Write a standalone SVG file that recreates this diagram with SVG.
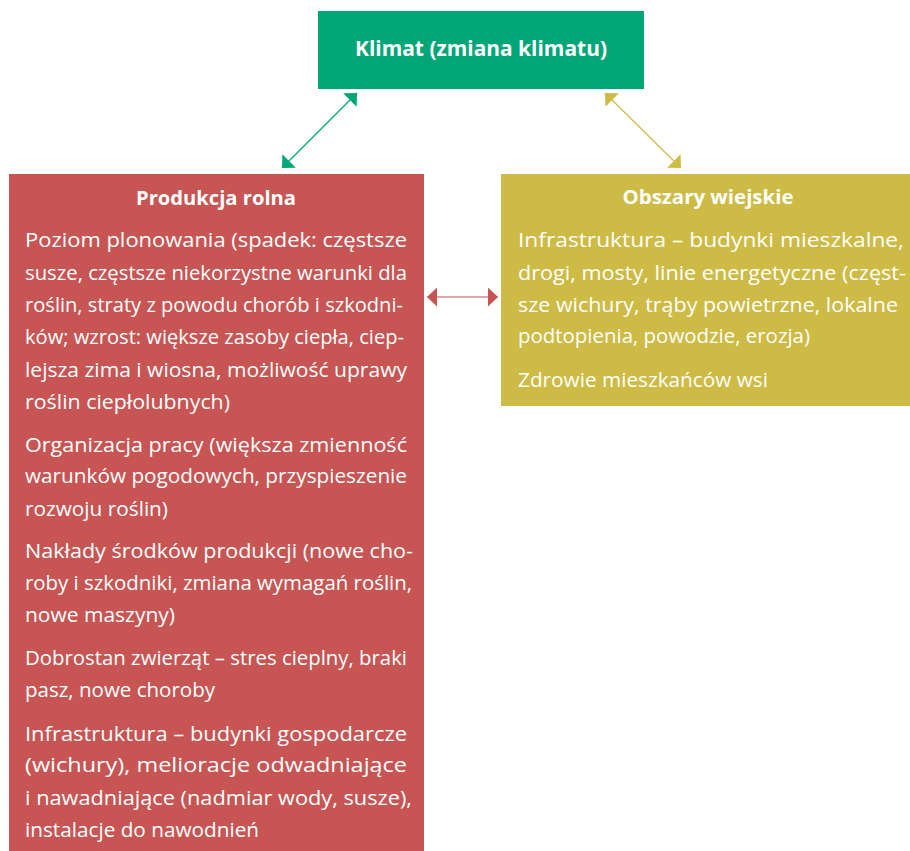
<svg xmlns="http://www.w3.org/2000/svg" width="910" height="851" viewBox="0 0 910 851">
<defs>
<style>
.body{font-family:"Open Sans","Noto Sans",sans-serif;font-size:20.5px;fill:#ffffff;}
.title{font-family:"Open Sans","Noto Sans",sans-serif;font-size:20px;font-weight:bold;fill:#ffffff;text-anchor:middle;}
.conn{fill:none;stroke-width:1.2;}
</style>
<marker id="ah-g" markerUnits="userSpaceOnUse" markerWidth="10" markerHeight="19" refX="10" refY="9.5" orient="auto-start-reverse" viewBox="0 0 10 19"><path d="M0,0 L10,9.5 L0,19 z" fill="#00A676"/></marker>
<marker id="ah-y" markerUnits="userSpaceOnUse" markerWidth="10" markerHeight="19" refX="10" refY="9.5" orient="auto-start-reverse" viewBox="0 0 10 19"><path d="M0,0 L10,9.5 L0,19 z" fill="#CDBB45"/></marker>
<marker id="ah-r" markerUnits="userSpaceOnUse" markerWidth="10" markerHeight="19" refX="10" refY="9.5" orient="auto-start-reverse" viewBox="0 0 10 19"><path d="M0,0 L10,9.5 L0,19 z" fill="#C75554"/></marker>
</defs>
<rect width="910" height="851" fill="#ffffff"/>

<g id="klimat">
<rect x="318" y="11" width="326" height="78" fill="#00A676"/>
<text class="title" x="481" y="56" textLength="252" lengthAdjust="spacingAndGlyphs" style="font-size:21px">Klimat (zmiana klimatu)</text>
</g>

<g id="produkcja-rolna">
<rect x="9" y="174" width="415" height="677" fill="#C75554"/>
<text class="title" x="216" y="205" textLength="160" lengthAdjust="spacingAndGlyphs">Produkcja rolna</text>
<text class="body" x="25" y="247" textLength="382" lengthAdjust="spacingAndGlyphs">Poziom plonowania (spadek: częstsze</text>
<text class="body" x="25" y="280" textLength="382" lengthAdjust="spacingAndGlyphs">susze, częstsze niekorzystne warunki dla</text>
<text class="body" x="25" y="312" textLength="378" lengthAdjust="spacingAndGlyphs">roślin, straty z powodu chorób i szkodni-</text>
<text class="body" x="25" y="344" textLength="379" lengthAdjust="spacingAndGlyphs">ków; wzrost: większe zasoby ciepła, ciep-</text>
<text class="body" x="25" y="377" textLength="382" lengthAdjust="spacingAndGlyphs">lejsza zima i wiosna, możliwość uprawy</text>
<text class="body" x="25" y="409" textLength="205" lengthAdjust="spacingAndGlyphs">roślin ciepłolubnych)</text>
<text class="body" x="25" y="452" textLength="382" lengthAdjust="spacingAndGlyphs">Organizacja pracy (większa zmienność</text>
<text class="body" x="25" y="483" textLength="382" lengthAdjust="spacingAndGlyphs">warunków pogodowych, przyspieszenie</text>
<text class="body" x="25" y="516" textLength="143" lengthAdjust="spacingAndGlyphs">rozwoju roślin)</text>
<text class="body" x="25" y="558" textLength="388" lengthAdjust="spacingAndGlyphs">Nakłady środków produkcji (nowe cho-</text>
<text class="body" x="25" y="590" textLength="387" lengthAdjust="spacingAndGlyphs">roby i szkodniki, zmiana wymagań roślin,</text>
<text class="body" x="25" y="622" textLength="150" lengthAdjust="spacingAndGlyphs">nowe maszyny)</text>
<text class="body" x="25" y="665" textLength="382" lengthAdjust="spacingAndGlyphs">Dobrostan zwierząt – stres cieplny, braki</text>
<text class="body" x="25" y="697" textLength="190" lengthAdjust="spacingAndGlyphs">pasz, nowe choroby</text>
<text class="body" x="25" y="741" textLength="382" lengthAdjust="spacingAndGlyphs">Infrastruktura – budynki gospodarcze</text>
<text class="body" x="25" y="772" textLength="382" lengthAdjust="spacingAndGlyphs">(wichury), melioracje odwadniające</text>
<text class="body" x="25" y="805" textLength="387" lengthAdjust="spacingAndGlyphs">i nawadniające (nadmiar wody, susze),</text>
<text class="body" x="25" y="837" textLength="234" lengthAdjust="spacingAndGlyphs">instalacje do nawodnień</text>
</g>

<g id="obszary-wiejskie">
<rect x="501" y="174" width="409" height="232" fill="#CDBB45"/>
<text class="title" x="708" y="204" textLength="171" lengthAdjust="spacingAndGlyphs">Obszary wiejskie</text>
<text class="body" x="518" y="247" textLength="386" lengthAdjust="spacingAndGlyphs">Infrastruktura – budynki mieszkalne,</text>
<text class="body" x="518" y="280" textLength="388" lengthAdjust="spacingAndGlyphs">drogi, mosty, linie energetyczne (częst-</text>
<text class="body" x="518" y="312" textLength="380" lengthAdjust="spacingAndGlyphs">sze wichury, trąby powietrzne, lokalne</text>
<text class="body" x="518" y="343" textLength="292" lengthAdjust="spacingAndGlyphs">podtopienia, powodzie, erozja)</text>
<text class="body" x="518" y="387" textLength="250" lengthAdjust="spacingAndGlyphs">Zdrowie mieszkańców wsi</text>
</g>

<g id="connectors">
<line class="conn" x1="357" y1="93" x2="282" y2="168" stroke="#00A676" marker-start="url(#ah-g)" marker-end="url(#ah-g)"/>
<line class="conn" x1="605" y1="93" x2="681" y2="168" stroke="#CDBB45" marker-start="url(#ah-y)" marker-end="url(#ah-y)"/>
<line class="conn" x1="427" y1="297" x2="498" y2="297" stroke="#C75554" marker-start="url(#ah-r)" marker-end="url(#ah-r)"/>
</g>
</svg>
